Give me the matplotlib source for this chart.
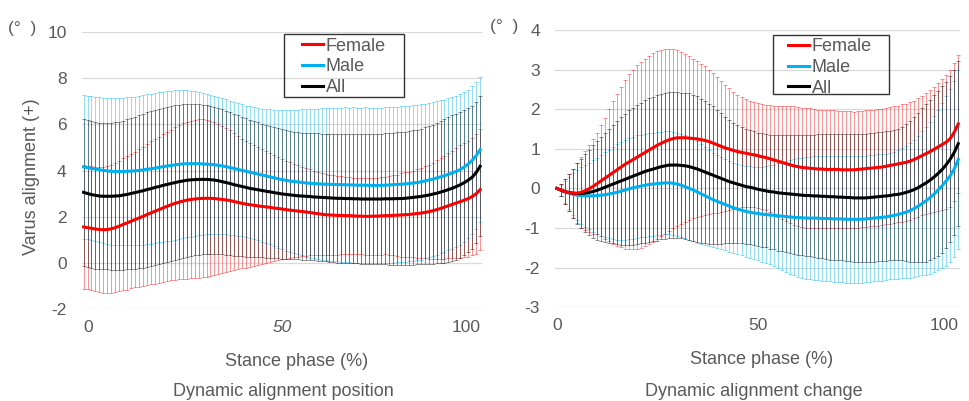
import numpy as np
import matplotlib
matplotlib.use("Agg")
import matplotlib.pyplot as plt
from matplotlib.patches import Rectangle

# stance phase 0..100 %
stance = list(range(101))

# ---- Dynamic alignment position (deg) ----
pos_female_mean = [
    1.56, 1.53, 1.50, 1.47, 1.45, 1.44, 1.45, 1.48, 1.53, 1.60, 1.67,
    1.74, 1.81, 1.88, 1.95, 2.02, 2.10, 2.17, 2.24, 2.31, 2.38,
    2.45, 2.52, 2.58, 2.63, 2.68, 2.72, 2.75, 2.77, 2.79, 2.80,
    2.80, 2.80, 2.79, 2.77, 2.75, 2.73, 2.70, 2.66, 2.62, 2.58,
    2.55, 2.52, 2.50, 2.47, 2.45, 2.43, 2.41, 2.38, 2.36, 2.34,
    2.31, 2.29, 2.27, 2.25, 2.23, 2.21, 2.19, 2.16, 2.14, 2.11,
    2.09, 2.08, 2.07, 2.06, 2.06, 2.05, 2.05, 2.04, 2.03, 2.03,
    2.02, 2.02, 2.03, 2.03, 2.04, 2.05, 2.05, 2.06, 2.07, 2.08,
    2.09, 2.10, 2.12, 2.14, 2.16, 2.19, 2.22, 2.26, 2.31, 2.36,
    2.42, 2.48, 2.54, 2.60, 2.66, 2.72, 2.79, 2.88, 3.00, 3.18]
pos_female_sd = [
    2.67, 2.67, 2.68, 2.69, 2.70, 2.72, 2.74, 2.77, 2.80, 2.83, 2.86,
    2.89, 2.91, 2.94, 2.98, 3.02, 3.06, 3.10, 3.13, 3.16, 3.19,
    3.22, 3.26, 3.30, 3.34, 3.37, 3.40, 3.42, 3.43, 3.43, 3.42,
    3.40, 3.37, 3.32, 3.26, 3.20, 3.13, 3.05, 2.97, 2.89, 2.81,
    2.75, 2.69, 2.62, 2.55, 2.48, 2.41, 2.35, 2.29, 2.23, 2.17,
    2.12, 2.07, 2.02, 1.98, 1.94, 1.90, 1.86, 1.83, 1.80, 1.78,
    1.76, 1.74, 1.72, 1.70, 1.69, 1.68, 1.67, 1.66, 1.66, 1.66,
    1.66, 1.66, 1.67, 1.67, 1.68, 1.68, 1.70, 1.73, 1.76, 1.80,
    1.83, 1.86, 1.88, 1.91, 1.95, 1.99, 2.03, 2.08, 2.13, 2.18,
    2.23, 2.28, 2.33, 2.38, 2.43, 2.47, 2.51, 2.55, 2.59, 2.63]
pos_male_mean = [
    4.16, 4.13, 4.10, 4.07, 4.04, 4.01, 3.99, 3.97, 3.96, 3.96, 3.96,
    3.97, 3.98, 3.99, 4.01, 4.03, 4.06, 4.08, 4.11, 4.14, 4.17,
    4.20, 4.22, 4.25, 4.27, 4.29, 4.30, 4.30, 4.30, 4.30, 4.29,
    4.28, 4.27, 4.25, 4.23, 4.20, 4.17, 4.13, 4.09, 4.05, 4.01,
    3.97, 3.93, 3.89, 3.85, 3.81, 3.77, 3.73, 3.69, 3.65, 3.61,
    3.58, 3.55, 3.53, 3.51, 3.49, 3.47, 3.45, 3.44, 3.43, 3.42,
    3.41, 3.41, 3.40, 3.40, 3.39, 3.39, 3.38, 3.38, 3.37, 3.37,
    3.37, 3.36, 3.36, 3.36, 3.36, 3.37, 3.38, 3.39, 3.40, 3.41,
    3.42, 3.44, 3.46, 3.48, 3.51, 3.55, 3.59, 3.63, 3.68, 3.73,
    3.78, 3.84, 3.90, 3.97, 4.05, 4.16, 4.29, 4.45, 4.65, 4.91]
pos_male_sd = [
    3.10, 3.11, 3.12, 3.13, 3.14, 3.15, 3.16, 3.17, 3.18, 3.19, 3.20,
    3.21, 3.22, 3.22, 3.23, 3.23, 3.24, 3.24, 3.25, 3.25, 3.25,
    3.25, 3.25, 3.24, 3.23, 3.21, 3.19, 3.16, 3.13, 3.10, 3.07,
    3.04, 3.01, 2.98, 2.96, 2.94, 2.92, 2.90, 2.88, 2.87, 2.86,
    2.85, 2.85, 2.86, 2.87, 2.88, 2.90, 2.92, 2.95, 2.98, 3.01,
    3.04, 3.07, 3.10, 3.13, 3.16, 3.19, 3.22, 3.24, 3.26, 3.28,
    3.30, 3.31, 3.32, 3.33, 3.34, 3.35, 3.35, 3.36, 3.36, 3.36,
    3.37, 3.37, 3.37, 3.37, 3.37, 3.37, 3.37, 3.37, 3.37, 3.37,
    3.37, 3.37, 3.37, 3.37, 3.36, 3.35, 3.34, 3.33, 3.32, 3.31,
    3.30, 3.29, 3.28, 3.27, 3.26, 3.24, 3.22, 3.20, 3.18, 3.15]
pos_all_mean = [
    3.06, 3.01, 2.96, 2.93, 2.90, 2.89, 2.89, 2.89, 2.90, 2.91, 2.94,
    2.97, 3.01, 3.05, 3.09, 3.13, 3.18, 3.22, 3.27, 3.31, 3.36,
    3.40, 3.44, 3.48, 3.52, 3.55, 3.58, 3.60, 3.61, 3.62, 3.62,
    3.62, 3.61, 3.59, 3.56, 3.52, 3.48, 3.44, 3.39, 3.35, 3.31,
    3.27, 3.23, 3.20, 3.17, 3.14, 3.11, 3.08, 3.05, 3.02, 2.99,
    2.97, 2.95, 2.93, 2.91, 2.90, 2.89, 2.88, 2.86, 2.85, 2.84,
    2.83, 2.82, 2.81, 2.80, 2.80, 2.79, 2.79, 2.78, 2.78, 2.77,
    2.77, 2.77, 2.77, 2.77, 2.77, 2.78, 2.78, 2.78, 2.79, 2.79,
    2.80, 2.82, 2.84, 2.86, 2.88, 2.91, 2.94, 2.98, 3.02, 3.07,
    3.12, 3.18, 3.24, 3.31, 3.39, 3.48, 3.59, 3.72, 3.92, 4.19]
pos_all_sd = [
    3.17, 3.17, 3.17, 3.17, 3.17, 3.17, 3.17, 3.18, 3.19, 3.21, 3.23,
    3.25, 3.27, 3.29, 3.31, 3.33, 3.34, 3.35, 3.36, 3.36, 3.36,
    3.36, 3.36, 3.35, 3.34, 3.33, 3.31, 3.30, 3.28, 3.26, 3.24,
    3.22, 3.20, 3.18, 3.16, 3.14, 3.12, 3.10, 3.07, 3.04, 3.01,
    2.99, 2.96, 2.94, 2.92, 2.90, 2.88, 2.86, 2.84, 2.82, 2.80,
    2.78, 2.77, 2.76, 2.75, 2.75, 2.75, 2.75, 2.75, 2.76, 2.76,
    2.76, 2.77, 2.77, 2.78, 2.78, 2.79, 2.79, 2.80, 2.80, 2.81,
    2.81, 2.82, 2.82, 2.83, 2.83, 2.84, 2.85, 2.86, 2.87, 2.88,
    2.89, 2.90, 2.91, 2.92, 2.94, 2.96, 2.98, 3.01, 3.04, 3.07,
    3.10, 3.13, 3.15, 3.16, 3.16, 3.15, 3.13, 3.10, 3.07, 3.04]

# ---- Dynamic alignment change (deg) ----
chg_female_mean = [
    0.00, -0.04, -0.08, -0.11, -0.12, -0.12, -0.10, -0.06, -0.01, 0.05, 0.12,
    0.19, 0.26, 0.33, 0.40, 0.47, 0.54, 0.61, 0.67, 0.73, 0.79,
    0.85, 0.91, 0.97, 1.03, 1.09, 1.14, 1.19, 1.23, 1.26, 1.28,
    1.28, 1.28, 1.27, 1.26, 1.25, 1.23, 1.21, 1.18, 1.14, 1.10,
    1.06, 1.02, 0.99, 0.96, 0.93, 0.91, 0.89, 0.87, 0.85, 0.83,
    0.80, 0.78, 0.75, 0.72, 0.69, 0.66, 0.63, 0.60, 0.57, 0.55,
    0.53, 0.52, 0.51, 0.50, 0.49, 0.49, 0.48, 0.48, 0.48, 0.48,
    0.47, 0.47, 0.47, 0.47, 0.48, 0.49, 0.50, 0.51, 0.52, 0.53,
    0.54, 0.56, 0.58, 0.60, 0.62, 0.64, 0.66, 0.69, 0.73, 0.78,
    0.83, 0.88, 0.93, 0.99, 1.05, 1.11, 1.17, 1.26, 1.42, 1.63]
chg_female_sd = [
    0.00, 0.15, 0.31, 0.47, 0.62, 0.76, 0.89, 1.00, 1.10, 1.19, 1.28,
    1.40, 1.53, 1.67, 1.80, 1.92, 2.03, 2.13, 2.21, 2.27, 2.32,
    2.35, 2.37, 2.38, 2.38, 2.37, 2.35, 2.33, 2.30, 2.26, 2.22,
    2.17, 2.12, 2.07, 2.02, 1.97, 1.92, 1.87, 1.82, 1.77, 1.72,
    1.66, 1.60, 1.54, 1.48, 1.43, 1.39, 1.36, 1.34, 1.33, 1.32,
    1.32, 1.33, 1.35, 1.37, 1.40, 1.43, 1.46, 1.48, 1.50, 1.51,
    1.51, 1.51, 1.51, 1.50, 1.50, 1.50, 1.49, 1.49, 1.49, 1.48,
    1.48, 1.48, 1.48, 1.47, 1.47, 1.47, 1.47, 1.47, 1.47, 1.47,
    1.47, 1.47, 1.47, 1.47, 1.47, 1.48, 1.48, 1.49, 1.49, 1.50,
    1.51, 1.53, 1.55, 1.58, 1.62, 1.66, 1.69, 1.72, 1.74, 1.75]
chg_male_mean = [
    0.00, -0.05, -0.09, -0.12, -0.15, -0.17, -0.18, -0.19, -0.19, -0.19, -0.18,
    -0.17, -0.16, -0.14, -0.12, -0.10, -0.07, -0.04, -0.01, 0.02, 0.04,
    0.06, 0.08, 0.10, 0.11, 0.12, 0.13, 0.14, 0.14, 0.13, 0.11,
    0.08, 0.04, 0.00, -0.04, -0.09, -0.14, -0.19, -0.24, -0.29, -0.33,
    -0.37, -0.41, -0.45, -0.49, -0.52, -0.55, -0.58, -0.60, -0.62, -0.63,
    -0.65, -0.66, -0.67, -0.68, -0.69, -0.70, -0.71, -0.72, -0.73, -0.74,
    -0.74, -0.75, -0.75, -0.75, -0.75, -0.76, -0.76, -0.76, -0.77, -0.77,
    -0.77, -0.78, -0.78, -0.78, -0.78, -0.78, -0.77, -0.76, -0.75, -0.74,
    -0.73, -0.72, -0.70, -0.68, -0.66, -0.63, -0.60, -0.56, -0.51, -0.45,
    -0.38, -0.31, -0.23, -0.14, -0.04, 0.07, 0.19, 0.32, 0.49, 0.73]
chg_male_sd = [
    0.00, 0.14, 0.28, 0.41, 0.53, 0.63, 0.71, 0.78, 0.84, 0.90, 0.96,
    1.02, 1.07, 1.12, 1.17, 1.21, 1.24, 1.26, 1.28, 1.29, 1.30,
    1.30, 1.30, 1.30, 1.30, 1.30, 1.30, 1.30, 1.30, 1.30, 1.30,
    1.30, 1.30, 1.30, 1.30, 1.29, 1.27, 1.24, 1.21, 1.19, 1.17,
    1.16, 1.15, 1.15, 1.14, 1.14, 1.14, 1.15, 1.16, 1.17, 1.18,
    1.20, 1.22, 1.25, 1.28, 1.32, 1.36, 1.40, 1.44, 1.47, 1.50,
    1.52, 1.54, 1.55, 1.56, 1.57, 1.58, 1.58, 1.59, 1.59, 1.59,
    1.60, 1.60, 1.60, 1.60, 1.60, 1.60, 1.60, 1.60, 1.60, 1.60,
    1.60, 1.60, 1.60, 1.61, 1.62, 1.64, 1.67, 1.70, 1.73, 1.77,
    1.82, 1.87, 1.92, 1.97, 2.03, 2.09, 2.14, 2.19, 2.23, 2.27]
chg_all_mean = [
    0.00, -0.04, -0.08, -0.10, -0.12, -0.13, -0.13, -0.12, -0.10, -0.08, -0.05,
    -0.01, 0.03, 0.07, 0.11, 0.15, 0.19, 0.23, 0.27, 0.31, 0.35,
    0.39, 0.43, 0.46, 0.49, 0.52, 0.55, 0.57, 0.59, 0.59, 0.59,
    0.58, 0.57, 0.55, 0.52, 0.49, 0.45, 0.41, 0.37, 0.33, 0.29,
    0.25, 0.21, 0.17, 0.14, 0.11, 0.08, 0.05, 0.03, 0.01, -0.02,
    -0.04, -0.06, -0.08, -0.09, -0.11, -0.12, -0.13, -0.14, -0.15, -0.16,
    -0.17, -0.18, -0.18, -0.19, -0.19, -0.20, -0.20, -0.21, -0.21, -0.22,
    -0.22, -0.23, -0.23, -0.24, -0.24, -0.24, -0.24, -0.23, -0.22, -0.21,
    -0.20, -0.19, -0.18, -0.16, -0.15, -0.13, -0.10, -0.07, -0.03, 0.02,
    0.08, 0.14, 0.21, 0.29, 0.38, 0.48, 0.60, 0.74, 0.91, 1.13]
chg_all_sd = [
    0.00, 0.16, 0.32, 0.47, 0.62, 0.76, 0.88, 0.98, 1.08, 1.17, 1.25,
    1.32, 1.38, 1.44, 1.50, 1.56, 1.61, 1.66, 1.70, 1.73, 1.76,
    1.78, 1.80, 1.82, 1.83, 1.84, 1.84, 1.84, 1.84, 1.84, 1.84,
    1.84, 1.85, 1.85, 1.85, 1.84, 1.82, 1.80, 1.77, 1.74, 1.70,
    1.65, 1.60, 1.56, 1.52, 1.49, 1.47, 1.45, 1.44, 1.43, 1.43,
    1.43, 1.43, 1.44, 1.45, 1.46, 1.47, 1.48, 1.49, 1.50, 1.51,
    1.52, 1.53, 1.54, 1.55, 1.56, 1.57, 1.58, 1.59, 1.59, 1.60,
    1.60, 1.61, 1.61, 1.61, 1.62, 1.62, 1.62, 1.63, 1.63, 1.63,
    1.63, 1.64, 1.64, 1.64, 1.66, 1.69, 1.73, 1.78, 1.83, 1.89,
    1.94, 1.99, 2.03, 2.06, 2.09, 2.10, 2.10, 2.10, 2.09, 2.08]

series_names = ["Female", "Male", "All"]
colors = {"Female": "#FF0000", "Male": "#00B0F0", "All": "#000000"}
x_ticks = [0, 50, 100]

plt.rcParams['font.family'] = ['Liberation Sans', 'DejaVu Sans']
plt.rcParams['axes.unicode_minus'] = False
grey = "#595959"

fig = plt.figure(figsize=(9.69, 4.01), dpi=100)
ax1 = fig.add_axes([0.0846, 0.229, 0.413, 0.691])
ax2 = fig.add_axes([0.573, 0.234, 0.418, 0.691])


def draw_panel(ax, means, sds, ylim, yticks, leg_anchor, box):
    x = np.array(stance)
    # error bars first, mean lines on top
    for name in series_names:
        ax.errorbar(x, means[name], yerr=sds[name], fmt='none',
                    ecolor=colors[name], elinewidth=0.6, capsize=1.3,
                    capthick=0.6, alpha=0.5, zorder=2)
    lines = {}
    for name in ["Male", "All", "Female"]:
        lines[name], = ax.plot(x, means[name], color=colors[name], lw=2.2,
                               zorder=4)
    leg = ax.legend([lines[n] for n in series_names], series_names,
                    loc='upper left', bbox_to_anchor=leg_anchor,
                    frameon=False, fontsize=13, handlelength=1.15,
                    handletextpad=0.15, labelspacing=0.2, borderpad=0,
                    borderaxespad=0)
    for t in leg.get_texts():
        t.set_color(grey)
    ax.add_patch(Rectangle(box[:2], box[2], box[3], transform=ax.transAxes,
                           fill=False, edgecolor='#333333', lw=1.0,
                           zorder=6, clip_on=False))
    ax.set_ylim(*ylim)
    ax.set_yticks(yticks)
    ax.set_xlim(-0.4, 100.5)
    ax.set_xticks(x_ticks)
    ax.grid(axis='y', color='#D9D9D9', lw=0.9, zorder=0)
    ax.set_axisbelow(True)
    for s in ax.spines.values():
        s.set_visible(False)
    ax.tick_params(length=0, labelsize=12.5, colors=grey)
    ax.tick_params(axis='y', pad=11)
    ax.tick_params(axis='x', pad=8)
    xl = ax.get_xticklabels()
    xl[-1].set_ha('right')
    return xl


xl1 = draw_panel(ax1,
                 {"Female": pos_female_mean, "Male": pos_male_mean, "All": pos_all_mean},
                 {"Female": pos_female_sd, "Male": pos_male_sd, "All": pos_all_sd},
                 (-2, 10), [-2, 0, 2, 4, 6, 8, 10], (0.55, 0.980),
                 (0.505, 0.765, 0.30, 0.227))
xl1[0].set_ha('left')
xl1[1].set_fontstyle('italic')
draw_panel(ax2,
           {"Female": chg_female_mean, "Male": chg_male_mean, "All": chg_all_mean},
           {"Female": chg_female_sd, "Male": chg_male_sd, "All": chg_all_sd},
           (-3, 4), [-3, -2, -1, 0, 1, 2, 3, 4], (0.575, 0.970),
           (0.538, 0.769, 0.286, 0.213))

# axis titles and captions
fig.text(297 / 969, 1 - 362 / 401, "Stance phase (%)", ha='center', va='center',
         fontsize=13, color=grey)
fig.text(762 / 969, 1 - 359 / 401, "Stance phase (%)", ha='center', va='center',
         fontsize=13, color=grey)
fig.text(283 / 969, 1 - 392 / 401, "Dynamic alignment position", ha='center',
         va='center', fontsize=13, color=grey)
fig.text(754 / 969, 1 - 391 / 401, "Dynamic alignment change", ha='center',
         va='center', fontsize=13, color=grey)
fig.text(32 / 969, 1 - 177 / 401, "Varus alignment (+)", ha='center',
         va='center', rotation=90, fontsize=13, color=grey)
fig.text(8 / 969, 1 - 28 / 401, "(°  )", ha='left', va='center',
         fontsize=12.5, color=grey)
fig.text(490 / 969, 1 - 26 / 401, "(°  )", ha='left', va='center',
         fontsize=12.5, color=grey)

fig.savefig("out.png", dpi=100)
